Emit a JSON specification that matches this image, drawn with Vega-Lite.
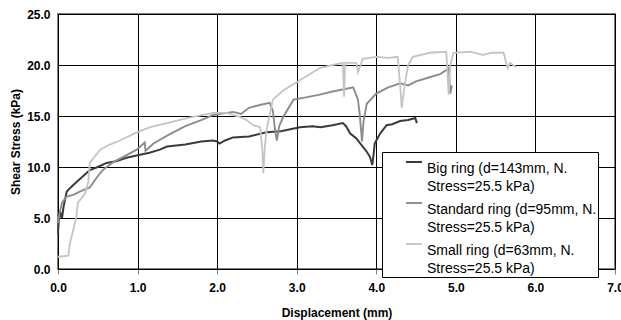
{
  "$schema": "https://vega.github.io/schema/vega-lite/v6.json",
  "width": 557,
  "height": 255,
  "autosize": {"type": "none"},
  "padding": {"left": 58, "top": 14, "right": 6, "bottom": 51},
  "background": "white",
  "config": {
    "view": {"stroke": "#808080", "strokeWidth": 2},
    "font": "Liberation Sans",
    "style": {"guide-label": {"lineHeight": 18}},
    "axis": {
      "grid": true, "gridColor": "#000000", "gridWidth": 1, "gridOpacity": 1,
      "domain": false,
      "labelFont": "Liberation Sans", "labelFontWeight": "bold", "labelFontSize": 12, "labelColor": "#000",
      "titleFont": "Liberation Sans", "titleFontWeight": "bold", "titleFontSize": 12, "titleColor": "#000",
      "tickColor": "#808080"
    }
  },
  "data": {"values": [
    {"s":"B","x":0.0,"y":3.5},{"s":"B","x":0.01,"y":4.8},{"s":"B","x":0.03,"y":5.5},{"s":"B","x":0.05,"y":5.0},{"s":"B","x":0.07,"y":6.1},{"s":"B","x":0.11,"y":7.6},{"s":"B","x":0.16,"y":8.0},{"s":"B","x":0.23,"y":8.5},{"s":"B","x":0.3,"y":9.0},{"s":"B","x":0.4,"y":9.7},{"s":"B","x":0.5,"y":10.0},{"s":"B","x":0.61,"y":10.4},{"s":"B","x":0.75,"y":10.6},{"s":"B","x":0.86,"y":10.9},{"s":"B","x":1.03,"y":11.2},{"s":"B","x":1.15,"y":11.4},{"s":"B","x":1.28,"y":11.7},{"s":"B","x":1.37,"y":12.0},{"s":"B","x":1.6,"y":12.2},{"s":"B","x":1.8,"y":12.5},{"s":"B","x":1.95,"y":12.6},{"s":"B","x":2.0,"y":12.5},{"s":"B","x":2.03,"y":12.3},{"s":"B","x":2.1,"y":12.6},{"s":"B","x":2.2,"y":12.9},{"s":"B","x":2.4,"y":13.0},{"s":"B","x":2.62,"y":13.4},{"s":"B","x":2.8,"y":13.5},{"s":"B","x":3.04,"y":13.9},{"s":"B","x":3.2,"y":14.0},{"s":"B","x":3.3,"y":13.9},{"s":"B","x":3.45,"y":14.1},{"s":"B","x":3.58,"y":14.3},{"s":"B","x":3.62,"y":14.0},{"s":"B","x":3.67,"y":13.3},{"s":"B","x":3.75,"y":12.8},{"s":"B","x":3.81,"y":12.2},{"s":"B","x":3.88,"y":11.5},{"s":"B","x":3.92,"y":11.0},{"s":"B","x":3.95,"y":10.2},{"s":"B","x":3.97,"y":11.5},{"s":"B","x":3.98,"y":12.3},{"s":"B","x":4.05,"y":13.3},{"s":"B","x":4.13,"y":14.1},{"s":"B","x":4.2,"y":14.2},{"s":"B","x":4.3,"y":14.5},{"s":"B","x":4.4,"y":14.6},{"s":"B","x":4.49,"y":14.8},{"s":"B","x":4.51,"y":14.3},
    {"s":"S","x":0.0,"y":4.5},{"s":"S","x":0.02,"y":5.5},{"s":"S","x":0.05,"y":6.5},{"s":"S","x":0.11,"y":7.1},{"s":"S","x":0.2,"y":7.3},{"s":"S","x":0.28,"y":7.6},{"s":"S","x":0.4,"y":8.0},{"s":"S","x":0.49,"y":9.0},{"s":"S","x":0.55,"y":9.6},{"s":"S","x":0.61,"y":10.0},{"s":"S","x":0.7,"y":10.5},{"s":"S","x":0.82,"y":11.0},{"s":"S","x":0.99,"y":11.7},{"s":"S","x":1.09,"y":12.4},{"s":"S","x":1.1,"y":11.6},{"s":"S","x":1.2,"y":12.3},{"s":"S","x":1.4,"y":13.2},{"s":"S","x":1.6,"y":14.0},{"s":"S","x":1.8,"y":14.6},{"s":"S","x":1.95,"y":15.1},{"s":"S","x":2.2,"y":15.4},{"s":"S","x":2.3,"y":15.2},{"s":"S","x":2.4,"y":15.8},{"s":"S","x":2.55,"y":16.1},{"s":"S","x":2.66,"y":16.3},{"s":"S","x":2.7,"y":15.5},{"s":"S","x":2.73,"y":13.5},{"s":"S","x":2.75,"y":12.6},{"s":"S","x":2.78,"y":14.0},{"s":"S","x":2.83,"y":14.9},{"s":"S","x":2.96,"y":16.6},{"s":"S","x":3.1,"y":16.8},{"s":"S","x":3.29,"y":17.1},{"s":"S","x":3.45,"y":17.4},{"s":"S","x":3.58,"y":17.6},{"s":"S","x":3.71,"y":17.8},{"s":"S","x":3.75,"y":17.0},{"s":"S","x":3.77,"y":16.6},{"s":"S","x":3.79,"y":15.3},{"s":"S","x":3.81,"y":13.5},{"s":"S","x":3.82,"y":12.5},{"s":"S","x":3.84,"y":14.5},{"s":"S","x":3.88,"y":16.2},{"s":"S","x":4.0,"y":17.2},{"s":"S","x":4.15,"y":17.8},{"s":"S","x":4.3,"y":18.2},{"s":"S","x":4.4,"y":18.0},{"s":"S","x":4.5,"y":18.4},{"s":"S","x":4.67,"y":18.8},{"s":"S","x":4.8,"y":19.1},{"s":"S","x":4.88,"y":19.5},{"s":"S","x":4.91,"y":19.7},{"s":"S","x":4.93,"y":17.2},{"s":"S","x":4.95,"y":18.0},
    {"s":"L","x":0.0,"y":1.2},{"s":"L","x":0.13,"y":1.3},{"s":"L","x":0.15,"y":2.5},{"s":"L","x":0.19,"y":3.8},{"s":"L","x":0.23,"y":5.1},{"s":"L","x":0.25,"y":6.5},{"s":"L","x":0.34,"y":7.4},{"s":"L","x":0.38,"y":8.5},{"s":"L","x":0.4,"y":10.4},{"s":"L","x":0.45,"y":10.9},{"s":"L","x":0.53,"y":11.7},{"s":"L","x":0.65,"y":12.2},{"s":"L","x":0.78,"y":12.6},{"s":"L","x":0.99,"y":13.4},{"s":"L","x":1.16,"y":13.9},{"s":"L","x":1.37,"y":14.3},{"s":"L","x":1.62,"y":14.8},{"s":"L","x":1.95,"y":15.3},{"s":"L","x":2.12,"y":15.3},{"s":"L","x":2.2,"y":15.1},{"s":"L","x":2.29,"y":14.9},{"s":"L","x":2.37,"y":14.6},{"s":"L","x":2.45,"y":14.1},{"s":"L","x":2.54,"y":13.9},{"s":"L","x":2.57,"y":11.5},{"s":"L","x":2.58,"y":9.4},{"s":"L","x":2.6,"y":12.0},{"s":"L","x":2.62,"y":13.6},{"s":"L","x":2.7,"y":16.6},{"s":"L","x":2.83,"y":17.5},{"s":"L","x":3.04,"y":18.5},{"s":"L","x":3.29,"y":19.7},{"s":"L","x":3.45,"y":20.0},{"s":"L","x":3.58,"y":20.2},{"s":"L","x":3.595,"y":16.9},{"s":"L","x":3.61,"y":20.2},{"s":"L","x":3.75,"y":20.2},{"s":"L","x":3.77,"y":19.3},{"s":"L","x":3.83,"y":20.6},{"s":"L","x":4.0,"y":20.8},{"s":"L","x":4.15,"y":20.7},{"s":"L","x":4.27,"y":20.8},{"s":"L","x":4.3,"y":18.0},{"s":"L","x":4.32,"y":15.8},{"s":"L","x":4.36,"y":18.2},{"s":"L","x":4.4,"y":20.0},{"s":"L","x":4.46,"y":20.8},{"s":"L","x":4.67,"y":21.2},{"s":"L","x":4.88,"y":21.3},{"s":"L","x":4.91,"y":17.1},{"s":"L","x":4.93,"y":20.0},{"s":"L","x":4.97,"y":21.2},{"s":"L","x":5.18,"y":21.3},{"s":"L","x":5.34,"y":21.0},{"s":"L","x":5.45,"y":21.2},{"s":"L","x":5.6,"y":21.2},{"s":"L","x":5.65,"y":19.7},{"s":"L","x":5.68,"y":20.2},{"s":"L","x":5.72,"y":20.0},{"s":"L","x":5.76,"y":19.8}
  ]},
  "mark": {"type": "line", "interpolate": "linear"},
  "encoding": {
    "x": {"field": "x", "type": "quantitative", "title": "Displacement (mm)",
      "scale": {"domain": [0, 7], "nice": false, "zero": false},
      "axis": {"values": [0,1,2,3,4,5,6,7], "format": ".1f", "tickSize": 5, "labelPadding": 8, "titlePadding": 14, "labelFlush": false}},
    "y": {"field": "y", "type": "quantitative", "title": "Shear Stress (kPa)",
      "scale": {"domain": [0, 25], "nice": false},
      "axis": {"values": [0,5,10,15,20,25], "format": ".1f", "tickSize": 0, "labelPadding": 8, "titlePadding": 4, "labelFlush": false}},
    "strokeWidth": {"field": "s", "type": "nominal",
      "scale": {"domain": ["B", "S", "L"], "range": [2, 1.8, 1.3]}, "legend": null},
    "color": {"field": "s", "type": "nominal",
      "scale": {"domain": ["B", "S", "L"], "range": ["#3a3a3a", "#8c8c8c", "#c4c4c4"]},
      "legend": {
        "title": null, "orient": "none", "legendX": 324, "legendY": 138,
        "labelExpr": "datum.value == 'B' ? ['Big ring (d=143mm, N.', 'Stress=25.5 kPa)'] : datum.value == 'S' ? ['Standard ring (d=95mm, N.', 'Stress=25.5 kPa)'] : ['Small ring (d=63mm, N.', 'Stress=25.5 kPa)']",
        "labelFont": "Liberation Sans", "labelFontSize": 14, "labelColor": "#000", "labelLimit": 400,
        "labelBaseline": "top", "labelOffset": 4, "labelLineHeight": 18,
        "symbolType": "stroke", "symbolSize": 256, "symbolStrokeWidth": 2,
        "strokeColor": "#000", "fillColor": "#fff", "padding": 1, "rowPadding": 0,
        "symbolOffset": 22
      }
    }
  }
}
